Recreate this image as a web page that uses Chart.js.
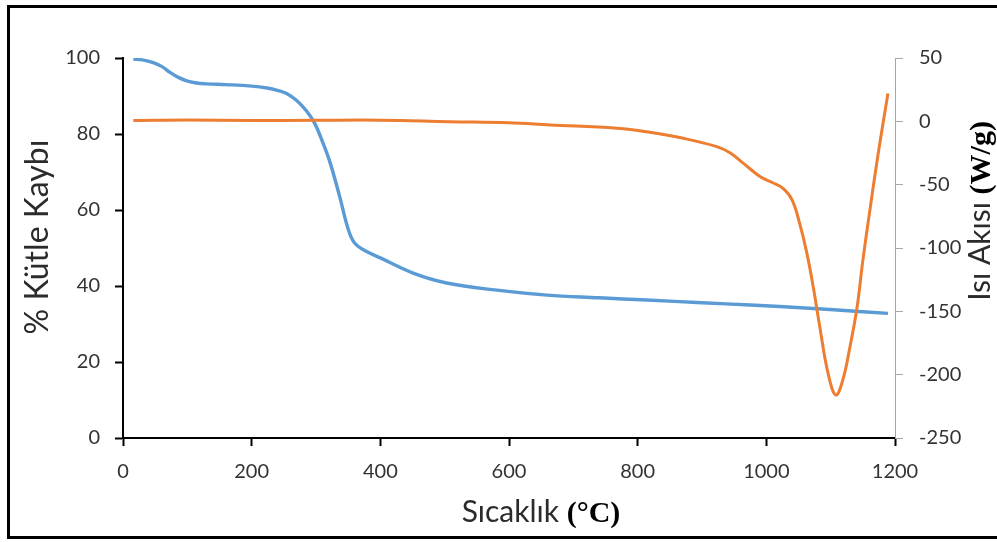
<!DOCTYPE html>
<html>
<head>
<meta charset="utf-8">
<script src="https://cdn.jsdelivr.net/npm/chart.js@4.4.1/dist/chart.umd.min.js"></script>
<style>
  html, body { margin: 0; padding: 0; background: #fff; }
  #wrap { width: 997px; height: 542px; position: relative; }
</style>
</head>
<body>
<div id="wrap"><canvas id="c" width="997" height="542"></canvas></div>
<script>
// ---- Data ----
const tempMass = [16, 30, 47, 60, 73, 86, 99, 112, 130, 160, 200, 224, 240, 255, 270, 285, 298, 310, 322, 337, 350, 360, 375, 400, 451, 503, 581, 659, 740, 814, 900, 975, 1021, 1099, 1189];
const massLoss = [99.7, 99.5, 98.8, 97.8, 96.2, 94.9, 94.0, 93.5, 93.2, 93.0, 92.6, 92.1, 91.5, 90.6, 88.8, 86.1, 82.8, 78.0, 72.4, 63.4, 55.0, 51.3, 49.4, 47.4, 43.4, 40.8, 38.9, 37.6, 36.9, 36.3, 35.6, 35.0, 34.6, 33.8, 32.8];

const tempHeat = [16, 100, 200, 300, 400, 508, 600, 664, 768, 819, 871, 923, 944, 964, 990, 1010, 1026, 1040, 1052, 1063, 1073, 1083, 1096, 1108, 1119, 1130, 1141, 1150, 1161, 1174, 1189];
const heatFlow = [0.6, 1.0, 0.6, 0.8, 0.9, -0.3, -1.2, -2.9, -5.5, -8.7, -13.4, -20, -25, -33, -43.5, -48.5, -53, -62, -81, -104, -131, -162, -199, -216, -204, -178, -147, -110, -70, -25, 22];

const xTicks = [0, 200, 400, 600, 800, 1000, 1200];
const leftTicks = [0, 20, 40, 60, 80, 100];
const rightTicks = [-250, -200, -150, -100, -50, 0, 50];

const xTitleSans = "Sıcaklık ";
const xTitleSerif = "(°C)";
const yTitle = "% Kütle Kaybı";
const y1TitleSans = "Isı Akısı ";
const y1TitleSerif = "(W/g)";

// ---- Chart ----
const tickFont = { family: 'Lato', size: 20 };
const tickColor = '#333333';
const titleColor = '#2b2b2b';

function mixedTitle(ctx, sans, serif, size) {
  ctx.font = size + 'px Lato';
  const w1 = ctx.measureText(sans).width;
  ctx.font = 'bold ' + size + 'px "Liberation Serif"';
  const w2 = ctx.measureText(serif).width;
  return { w1, w2, total: w1 + w2 };
}
function drawMixed(ctx, sans, serif, size, startX) {
  const m = mixedTitle(ctx, sans, serif, size);
  ctx.textBaseline = 'alphabetic';
  ctx.textAlign = 'left';
  ctx.font = size + 'px Lato';
  ctx.fillStyle = titleColor;
  ctx.fillText(sans, startX, 0);
  ctx.font = 'bold ' + size + 'px "Liberation Serif"';
  ctx.fillStyle = '#000';
  ctx.fillText(serif, startX + m.w1, 0);
}

const decor = {
  id: 'decor',
  afterDraw(chart) {
    const ctx = chart.ctx;
    const a = chart.chartArea;
    ctx.save();
    // outer frame
    ctx.strokeStyle = '#000';
    ctx.lineWidth = 3;
    ctx.strokeRect(8.5, 6.5, 1000, 531);

    // x title
    const size = 30;
    let m = mixedTitle(ctx, xTitleSans, xTitleSerif, size);
    ctx.save();
    ctx.translate((a.left + a.right) / 2 + 32, a.bottom + 84);
    drawMixed(ctx, xTitleSans, xTitleSerif, size, -m.total / 2);
    ctx.restore();

    // left y title
    ctx.save();
    ctx.font = '32px Lato';
    ctx.fillStyle = titleColor;
    ctx.translate(a.left - 75, (a.top + a.bottom) / 2 - 11);
    ctx.rotate(-Math.PI / 2);
    ctx.textAlign = 'center';
    ctx.textBaseline = 'alphabetic';
    ctx.fillText(yTitle, 0, 0);
    ctx.restore();

    // right y title
    m = mixedTitle(ctx, y1TitleSans, y1TitleSerif, size);
    ctx.save();
    ctx.translate(a.right + 95, (a.top + a.bottom) / 2 - 37);
    ctx.rotate(-Math.PI / 2);
    drawMixed(ctx, y1TitleSans, y1TitleSerif, size, -m.total / 2);
    ctx.restore();

    ctx.restore();
  }
};

const plain = v => String(v);

new Chart(document.getElementById('c'), {
  type: 'line',
  data: {
    datasets: [
      {
        label: '% Kütle Kaybı',
        data: tempMass.map((t, i) => ({ x: t, y: massLoss[i] })),
        borderColor: '#5B9BD5',
        borderWidth: 3.4,
        pointRadius: 0,
        tension: 0.4,
        yAxisID: 'y',
        order: 2
      },
      {
        label: 'Isı Akısı',
        data: tempHeat.map((t, i) => ({ x: t, y: heatFlow[i] })),
        borderColor: '#ED7D31',
        borderWidth: 3,
        pointRadius: 0,
        tension: 0.4,
        yAxisID: 'y1',
        order: 1
      }
    ]
  },
  options: {
    responsive: false,
    animation: false,
    devicePixelRatio: 1,
    layout: { padding: { top: 58, left: 0, right: 0, bottom: 0 } },
    plugins: { legend: { display: false }, tooltip: { enabled: false } },
    scales: {
      x: {
        type: 'linear',
        position: 'bottom',
        min: 0, max: 1200,
        afterBuildTicks: s => { s.ticks = xTicks.map(v => ({ value: v })); },
        afterFit: s => { s.height = 104; },
        ticks: { font: tickFont, color: tickColor, padding: 14, maxRotation: 0, callback: plain },
        grid: { drawOnChartArea: false, drawTicks: true, tickLength: 8, tickColor: '#000', tickWidth: 2 },
        border: { display: true, color: '#000', width: 2 }
      },
      y: {
        type: 'linear',
        position: 'left',
        min: 0, max: 100,
        afterBuildTicks: s => { s.ticks = leftTicks.map(v => ({ value: v })); },
        afterFit: s => { s.width = 123; },
        ticks: { font: tickFont, color: tickColor, padding: 15, callback: plain },
        grid: { drawOnChartArea: false, drawTicks: true, tickLength: 8, tickColor: '#000', tickWidth: 2 },
        border: { display: true, color: '#000', width: 2 }
      },
      y1: {
        type: 'linear',
        position: 'right',
        min: -250, max: 50,
        afterBuildTicks: s => { s.ticks = rightTicks.map(v => ({ value: v })); },
        afterFit: s => { s.width = 102; },
        ticks: { font: tickFont, color: tickColor, padding: 16, callback: plain },
        grid: { drawOnChartArea: false, drawTicks: true, tickLength: 8, tickColor: '#a6a6a6', tickWidth: 1 },
        border: { display: true, color: '#a6a6a6', width: 1 }
      }
    }
  },
  plugins: [decor]
});
</script>
</body>
</html>
